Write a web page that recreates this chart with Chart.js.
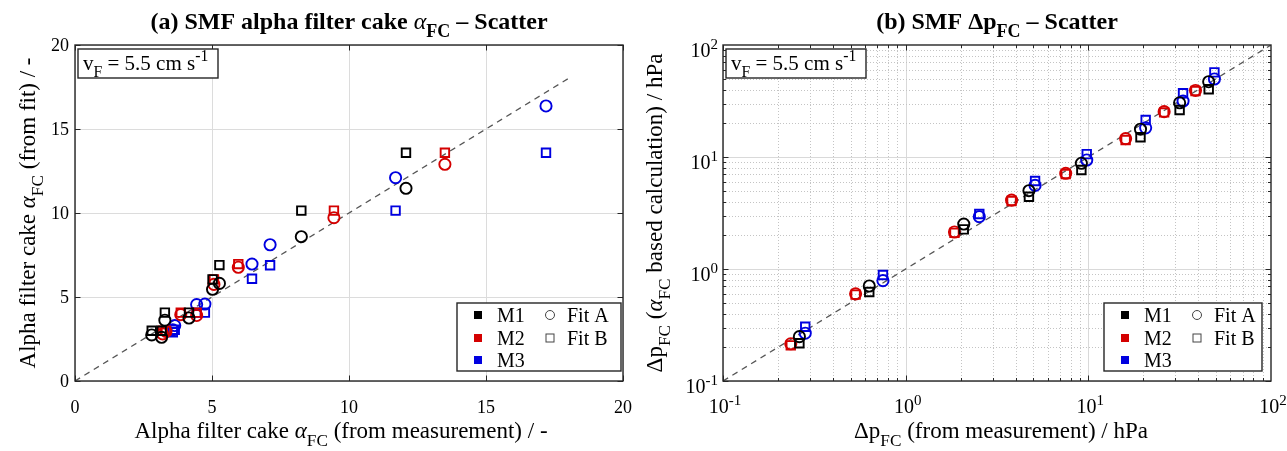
<!DOCTYPE html>
<html>
<head>
<meta charset="utf-8">
<script src="https://cdn.jsdelivr.net/npm/chart.js@4.4.1/dist/chart.umd.min.js"></script>
<style>
  html, body { margin: 0; padding: 0; background: #fff; }
  #wrap { position: relative; width: 1287px; height: 451px; }
  canvas { position: absolute; top: 0; }
</style>
</head>
<body>
<div id="wrap">
  <canvas id="chartA" width="643" height="451" style="left:0"></canvas>
  <canvas id="chartB" width="644" height="451" style="left:643px"></canvas>
</div>
<script>
// ---- values ----
const methods = ['M1', 'M2', 'M3'];
const methodColors = ['#000000', '#d40000', '#0000e0'];
const fitNames = ['Fit A', 'Fit B'];

// (a) alpha filter cake, measured vs. fitted
const alphaMeasM1 = [2.80, 3.16, 3.28, 4.16, 5.02, 5.27, 8.26, 12.08];
const alphaFitAM1 = [2.74, 2.60, 3.62, 3.75, 5.46, 5.81, 8.59, 11.47];
const alphaFitBM1 = [2.99, 2.99, 4.07, 4.07, 6.05, 6.90, 10.14, 13.59];
const alphaMeasM2 = [3.20, 3.32, 3.86, 4.44, 5.07, 5.96, 9.45, 13.50];
const alphaFitAM2 = [2.80, 2.95, 3.95, 3.90, 5.75, 6.77, 9.72, 12.90];
const alphaFitBM2 = [2.99, 2.99, 4.07, 4.07, 6.05, 6.96, 10.14, 13.59];
const alphaMeasM3 = [3.57, 3.64, 4.44, 4.74, 6.46, 7.12, 11.70, 17.19];
const alphaFitAM3 = [3.05, 3.30, 4.55, 4.58, 6.96, 8.11, 12.10, 16.37];
const alphaFitBM3 = [2.90, 3.05, 4.07, 4.07, 6.09, 6.89, 10.14, 13.59];

// (b) pressure drop, measured vs. calculated (hPa)
const dpMeasM1 = [0.262, 0.632, 2.08, 4.73, 9.16, 19.3, 31.6, 45.6];
const dpFitAM1 = [0.249, 0.705, 2.52, 5.00, 8.79, 17.7, 30.5, 47.0];
const dpFitBM1 = [0.217, 0.624, 2.26, 4.42, 7.65, 15.0, 26.3, 40.3];
const dpMeasM2 = [0.235, 0.532, 1.85, 3.80, 7.52, 16.0, 26.0, 38.6];
const dpFitAM2 = [0.215, 0.600, 2.14, 4.12, 7.15, 14.6, 25.4, 39.3];
const dpFitBM2 = [0.208, 0.590, 2.10, 4.05, 7.05, 14.2, 25.0, 38.8];
const dpMeasM3 = [0.282, 0.751, 2.53, 5.11, 9.80, 20.6, 33.0, 49.0];
const dpFitAM3 = [0.267, 0.787, 2.93, 5.58, 9.40, 18.2, 31.6, 49.7];
const dpFitBM3 = [0.305, 0.883, 3.10, 6.11, 10.6, 21.4, 37.1, 57.0];

// 1:1 reference lines
const diagA = [0, 18];
const diagB = [0.1, 100];

// tick labels
const linTicks = [0, 5, 10, 15, 20];
const logTicks = [0.1, 1, 10, 100];
const logTickExp = ['-1', '0', '1', '2'];

const SERIF = '"Liberation Serif", "Times New Roman", serif';

// draw a run of text pieces (italic / sub / sup) as one label
function pieceFont(p, size, bold) {
  const s = p.s ? size * 0.75 : size;
  const b = bold && !p.nb;
  return (p.i ? 'italic ' : '') + (b ? 'bold ' : '') + s + 'px ' + SERIF;
}
function drawRich(ctx, parts, x, y, size, opt) {
  opt = opt || {};
  ctx.save();
  ctx.translate(x, y);
  if (opt.rotate) ctx.rotate(-Math.PI / 2);
  let w = 0;
  parts.forEach(p => { ctx.font = pieceFont(p, size, opt.bold); w += ctx.measureText(p.t).width; });
  let cx = opt.align === 'right' ? -w : opt.align === 'left' ? 0 : -w / 2;
  ctx.fillStyle = '#000';
  ctx.textAlign = 'left';
  ctx.textBaseline = 'alphabetic';
  parts.forEach(p => {
    ctx.font = pieceFont(p, size, opt.bold);
    const dy = p.s === 'sub' ? size * 0.33 : p.s === 'sup' ? -size * 0.42 : 0;
    ctx.fillText(p.t, cx, dy);
    cx += ctx.measureText(p.t).width;
  });
  ctx.restore();
}

function buildSets(meas, fitA, fitB, diag) {
  const sets = [{
    type: 'line',
    data: diag.map(v => ({ x: v, y: v })),
    borderColor: '#555',
    borderWidth: 1.2,
    borderDash: [6, 5],
    pointRadius: 0,
    order: 10
  }];
  methods.forEach((m, k) => {
    [fitA, fitB].forEach((fit, f) => {
      sets.push({
        label: m + ' ' + fitNames[f],
        data: meas[k].map((v, i) => ({ x: v, y: fit[k][i] })),
        pointStyle: f === 0 ? 'circle' : 'rect',
        pointRadius: f === 0 ? 5.6 : 6,
        pointBorderColor: methodColors[k],
        pointBackgroundColor: 'rgba(0,0,0,0)',
        pointBorderWidth: 1.9,
        showLine: false
      });
    });
  });
  return sets;
}

const decor = {
  id: 'decor',
  beforeDatasetsDraw(chart, args, o) {
    if (!o.log) return;
    const { ctx, chartArea: a, scales: { x, y } } = chart;
    ctx.save();
    ctx.lineWidth = 1;
    for (let e = -1; e <= 1; e++) {
      for (let k = 1; k <= 9; k++) {
        const v = k * Math.pow(10, e);
        const px = Math.round(x.getPixelForValue(v)) + 0.5;
        const py = Math.round(y.getPixelForValue(v)) + 0.5;
        ctx.strokeStyle = k === 1 ? '#d9d9d9' : '#c4c4c4';
        ctx.setLineDash(k === 1 ? [] : [1, 2]);
        ctx.beginPath();
        ctx.moveTo(px, a.top); ctx.lineTo(px, a.bottom);
        ctx.moveTo(a.left, py); ctx.lineTo(a.right, py);
        ctx.stroke();
      }
    }
    ctx.restore();
  },
  afterDatasetsDraw(chart, args, o) {
    const { ctx, chartArea: a, scales: { x, y } } = chart;
    ctx.save();
    // inward tick marks on all four sides
    ctx.strokeStyle = '#262626';
    ctx.lineWidth = 1;
    const marks = [];
    if (o.log) {
      for (let e = -1; e <= 1; e++) for (let k = 1; k <= 9; k++) marks.push([k * Math.pow(10, e), k === 1 ? 5.5 : 3]);
    } else {
      linTicks.forEach(v => marks.push([v, 5.5]));
    }
    ctx.beginPath();
    marks.forEach(([v, len]) => {
      const px = Math.round(x.getPixelForValue(v)) + 0.5;
      const py = Math.round(y.getPixelForValue(v)) + 0.5;
      ctx.moveTo(px, a.bottom); ctx.lineTo(px, a.bottom - len);
      ctx.moveTo(px, a.top); ctx.lineTo(px, a.top + len);
      ctx.moveTo(a.left, py); ctx.lineTo(a.left + len, py);
      ctx.moveTo(a.right, py); ctx.lineTo(a.right - len, py);
    });
    ctx.stroke();
    // axes box
    ctx.lineWidth = 1.4;
    ctx.strokeRect(a.left, a.top, a.right - a.left, a.bottom - a.top);

    // tick labels
    if (o.log) {
      logTicks.forEach((v, i) => {
        const parts = [{ t: '10' }, { t: logTickExp[i], s: 'sup' }];
        drawRich(ctx, parts, x.getPixelForValue(v) + 2, a.bottom + 32, 20, {});
        drawRich(ctx, parts, a.left - 5, y.getPixelForValue(v) + 12, 20, { align: 'right' });
      });
    } else {
      linTicks.forEach(v => {
        drawRich(ctx, [{ t: String(v) }], x.getPixelForValue(v), a.bottom + 32, 18, {});
        drawRich(ctx, [{ t: String(v) }], a.left - 6, y.getPixelForValue(v) + 6, 18, { align: 'right' });
      });
    }

    // title and axis titles
    const cx = (a.left + a.right) / 2;
    const cy = (a.top + a.bottom) / 2;
    drawRich(ctx, o.title, cx, 29, 24, { bold: true });
    drawRich(ctx, o.xTitle, cx + o.xTitleShift, a.bottom + 57, 23, {});
    drawRich(ctx, o.yTitle, a.left - o.yTitleGap, cy, 23, { rotate: true });

    // velocity annotation box
    const bx = a.left + 3, by = a.top + 4;
    ctx.fillStyle = '#fff';
    ctx.fillRect(bx, by, 140, 29);
    ctx.strokeStyle = '#262626';
    ctx.lineWidth = 1.4;
    ctx.strokeRect(bx, by, 140, 29);
    drawRich(ctx, [{ t: 'v' }, { t: 'F', s: 'sub' }, { t: ' = 5.5 cm s' }, { t: '-1', s: 'sup' }], bx + 5, by + 21, 21, { align: 'left' });

    // legend
    const lx0 = a.right - o.legendW - o.legendGap, lx1 = a.right - o.legendGap;
    const ly0 = a.bottom - 78, ly1 = a.bottom - 10;
    ctx.fillStyle = '#fff';
    ctx.fillRect(lx0, ly0, lx1 - lx0, ly1 - ly0);
    ctx.strokeRect(lx0, ly0, lx1 - lx0, ly1 - ly0);
    const rows = [12, 35, 57];
    methods.forEach((m, k) => {
      ctx.fillStyle = methodColors[k];
      ctx.fillRect(lx0 + 17, ly0 + rows[k] - 4, 8, 8);
      drawRich(ctx, [{ t: m }], lx0 + 40, ly0 + rows[k] + 7, 20, { align: 'left' });
    });
    ctx.strokeStyle = '#444';
    ctx.lineWidth = 1;
    ctx.beginPath();
    ctx.arc(lx0 + 93, ly0 + rows[0], 4.5, 0, Math.PI * 2);
    ctx.stroke();
    ctx.strokeRect(lx0 + 89, ly0 + rows[1] - 4, 8, 8);
    fitNames.forEach((f, i) => {
      drawRich(ctx, [{ t: f }], lx0 + 110, ly0 + rows[i] + 7, 20, { align: 'left' });
    });
    ctx.restore();
  }
};

function makeChart(id, sets, xScale, yScale, pad, deco) {
  return new Chart(document.getElementById(id), {
    type: 'scatter',
    data: { datasets: sets },
    options: {
      responsive: false,
      animation: false,
      layout: { padding: pad },
      plugins: { legend: { display: false }, tooltip: { enabled: false }, decor: deco },
      scales: { x: xScale, y: yScale }
    },
    plugins: [decor]
  });
}

const linAxis = {
  type: 'linear', min: 0, max: 20,
  ticks: { display: false, stepSize: 5 },
  grid: { color: '#dcdcdc', drawTicks: false },
  border: { display: false }
};
const logAxis = {
  type: 'logarithmic', min: 0.1, max: 100,
  ticks: { display: false },
  grid: { display: false, drawTicks: false },
  border: { display: false }
};

makeChart('chartA',
  buildSets([alphaMeasM1, alphaMeasM2, alphaMeasM3], [alphaFitAM1, alphaFitAM2, alphaFitAM3], [alphaFitBM1, alphaFitBM2, alphaFitBM3], diagA),
  linAxis, linAxis,
  { left: 75, right: 20, top: 45, bottom: 70 },
  {
    log: false,
    title: [{ t: '(a) SMF alpha filter cake ' }, { t: 'α', i: 1, nb: 1 }, { t: 'FC', s: 'sub' }, { t: ' – Scatter' }],
    xTitle: [{ t: 'Alpha filter cake ' }, { t: 'α', i: 1 }, { t: 'FC', s: 'sub' }, { t: ' (from measurement) / -' }],
    yTitle: [{ t: 'Alpha filter cake ' }, { t: 'α', i: 1 }, { t: 'FC', s: 'sub' }, { t: ' (from fit) / -' }],
    xTitleShift: -8, yTitleGap: 40, legendW: 164, legendGap: 2
  });

makeChart('chartB',
  buildSets([dpMeasM1, dpMeasM2, dpMeasM3], [dpFitAM1, dpFitAM2, dpFitAM3], [dpFitBM1, dpFitBM2, dpFitBM3], diagB),
  logAxis, logAxis,
  { left: 80, right: 16, top: 45, bottom: 70 },
  {
    log: true,
    title: [{ t: '(b) SMF Δp' }, { t: 'FC', s: 'sub' }, { t: ' – Scatter' }],
    xTitle: [{ t: 'Δp' }, { t: 'FC', s: 'sub' }, { t: ' (from measurement) / hPa' }],
    yTitle: [{ t: 'Δp' }, { t: 'FC', s: 'sub' }, { t: ' (' }, { t: 'α', i: 1 }, { t: 'FC', s: 'sub' }, { t: ' based calculation) / hPa' }],
    xTitleShift: 4, yTitleGap: 61, legendW: 158, legendGap: 9
  });
</script>
</body>
</html>
